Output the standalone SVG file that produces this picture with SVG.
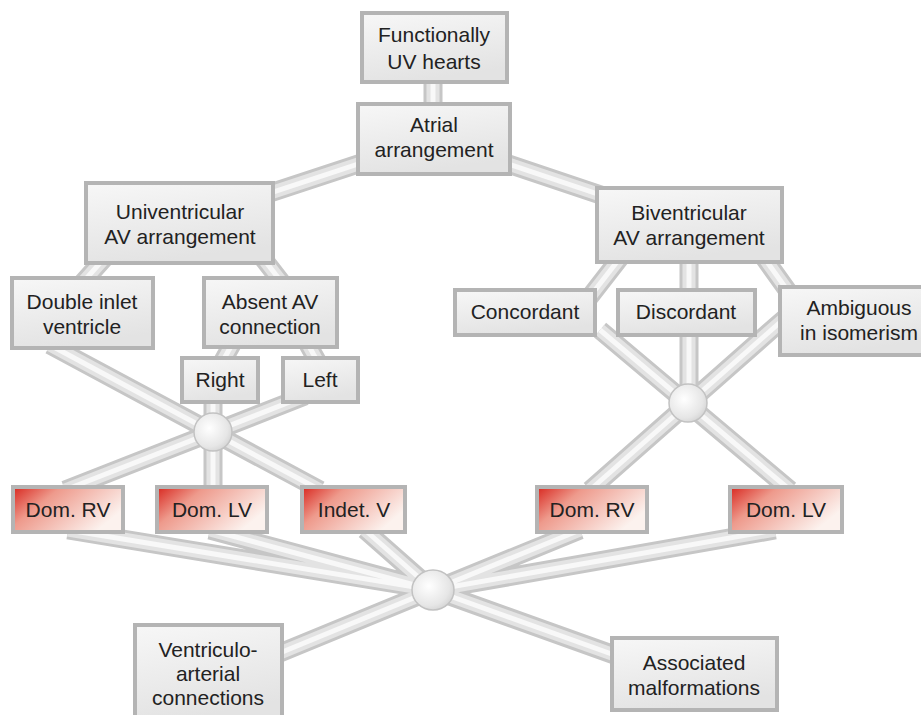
<svg xmlns="http://www.w3.org/2000/svg" width="921" height="715" viewBox="0 0 921 715">
<defs>
<linearGradient id="gbox" x1="0" y1="0" x2="0.3" y2="1">
<stop offset="0" stop-color="#f7f7f7"/>
<stop offset="1" stop-color="#e3e3e3"/>
</linearGradient>
<linearGradient id="gred" x1="0" y1="0" x2="1" y2="0.5">
<stop offset="0" stop-color="#d8261e"/>
<stop offset="0.35" stop-color="#ee9a8c"/>
<stop offset="1" stop-color="#fcf2ee"/>
</linearGradient>
<radialGradient id="ghub" cx="0.4" cy="0.4" r="0.7">
<stop offset="0" stop-color="#ffffff"/>
<stop offset="0.7" stop-color="#e6e6e6"/>
<stop offset="1" stop-color="#cfcfcf"/>
</radialGradient>
<style>
.box{fill:url(#gbox);stroke:#b4b4b4;stroke-width:4}
.red{fill:url(#gred);stroke:#b4b4b4;stroke-width:4}
.hub{fill:url(#ghub);stroke:#c2c2c2;stroke-width:1.5}
text{font-family:"Liberation Sans",Arial,sans-serif;font-size:21px;fill:#222;text-anchor:middle}
.t1{stroke:#c6c6c6;stroke-width:19;fill:none}
.t2{stroke:#e3e3e3;stroke-width:13;fill:none}
.t3{stroke:#f8f8f8;stroke-width:5;fill:none}
</style>
<g id="tubes">
<path d="M433,80V105 M434,139L179,223 M434,139L690,225 M125,235L60,308 M245,235L300,306 M240,330L215,375 M300,330L325,375 M213,400V432 M305,396L65,490 M50,345L320,490 M213,432V490 M630,245L585,303 M689,255V295 M755,245L795,301 M600,330L790,490 M785,318L590,490 M689,335V403 M68,530L433,590 M210,530L433,590 M365,530L433,590 M580,530L433,590 M775,530L433,590 M433,590L275,655 M433,590L620,657"/>
</g>
</defs>
<g id="connectors">
<use href="#tubes" class="t1"/>
<use href="#tubes" class="t2"/>
<use href="#tubes" class="t3"/>
</g>
<g id="hub1"><circle class="hub" cx="213" cy="432" r="19"/></g>
<g id="hub2"><circle class="hub" cx="688" cy="403" r="19"/></g>
<g id="hub3"><ellipse class="hub" cx="433" cy="590" rx="21" ry="20"/></g>
<g id="functionally"><rect class="box" x="362" y="13" width="145" height="69"/><text x="434" y="42">Functionally</text><text x="434" y="69">UV hearts</text></g>
<g id="atrial"><rect class="box" x="358" y="104" width="152" height="70"/><text x="434" y="132">Atrial</text><text x="434" y="157">arrangement</text></g>
<g id="univentricular"><rect class="box" x="86" y="183" width="187" height="80"/><text x="180" y="219">Univentricular</text><text x="180" y="244">AV arrangement</text></g>
<g id="biventricular"><rect class="box" x="597" y="188" width="185" height="74"/><text x="689" y="220">Biventricular</text><text x="689" y="245">AV arrangement</text></g>
<g id="doubleinlet"><rect class="box" x="12" y="278" width="141" height="70"/><text x="82" y="309">Double inlet</text><text x="82" y="334">ventricle</text></g>
<g id="absent"><rect class="box" x="204" y="278" width="133" height="69"/><text x="270" y="309">Absent AV</text><text x="270" y="334">connection</text></g>
<g id="right"><rect class="box" x="182" y="358" width="76" height="44"/><text x="220" y="387">Right</text></g>
<g id="left"><rect class="box" x="283" y="358" width="75" height="44"/><text x="320" y="387">Left</text></g>
<g id="concordant"><rect class="box" x="455" y="290" width="140" height="45"/><text x="525" y="319">Concordant</text></g>
<g id="discordant"><rect class="box" x="618" y="290" width="137" height="45"/><text x="686" y="319">Discordant</text></g>
<g id="ambiguous"><rect class="box" x="780" y="287" width="145" height="68"/><text x="859" y="315">Ambiguous</text><text x="859" y="340">in isomerism</text></g>
<g id="domrv1"><rect class="red" x="13" y="487" width="110" height="45"/><text x="68" y="517">Dom. RV</text></g>
<g id="domlv1"><rect class="red" x="157" y="487" width="110" height="45"/><text x="212" y="517">Dom. LV</text></g>
<g id="indetv"><rect class="red" x="302" y="487" width="103" height="45"/><text x="354" y="517">Indet. V</text></g>
<g id="domrv2"><rect class="red" x="537" y="487" width="110" height="45"/><text x="592" y="517">Dom. RV</text></g>
<g id="domlv2"><rect class="red" x="730" y="487" width="112" height="45"/><text x="786" y="517">Dom. LV</text></g>
<g id="ventriculo"><rect class="box" x="135" y="625" width="147" height="95"/><text x="208" y="657">Ventriculo-</text><text x="208" y="681">arterial</text><text x="208" y="705">connections</text></g>
<g id="associated"><rect class="box" x="612" y="638" width="165" height="72"/><text x="694" y="670">Associated</text><text x="694" y="695">malformations</text></g>
</svg>
